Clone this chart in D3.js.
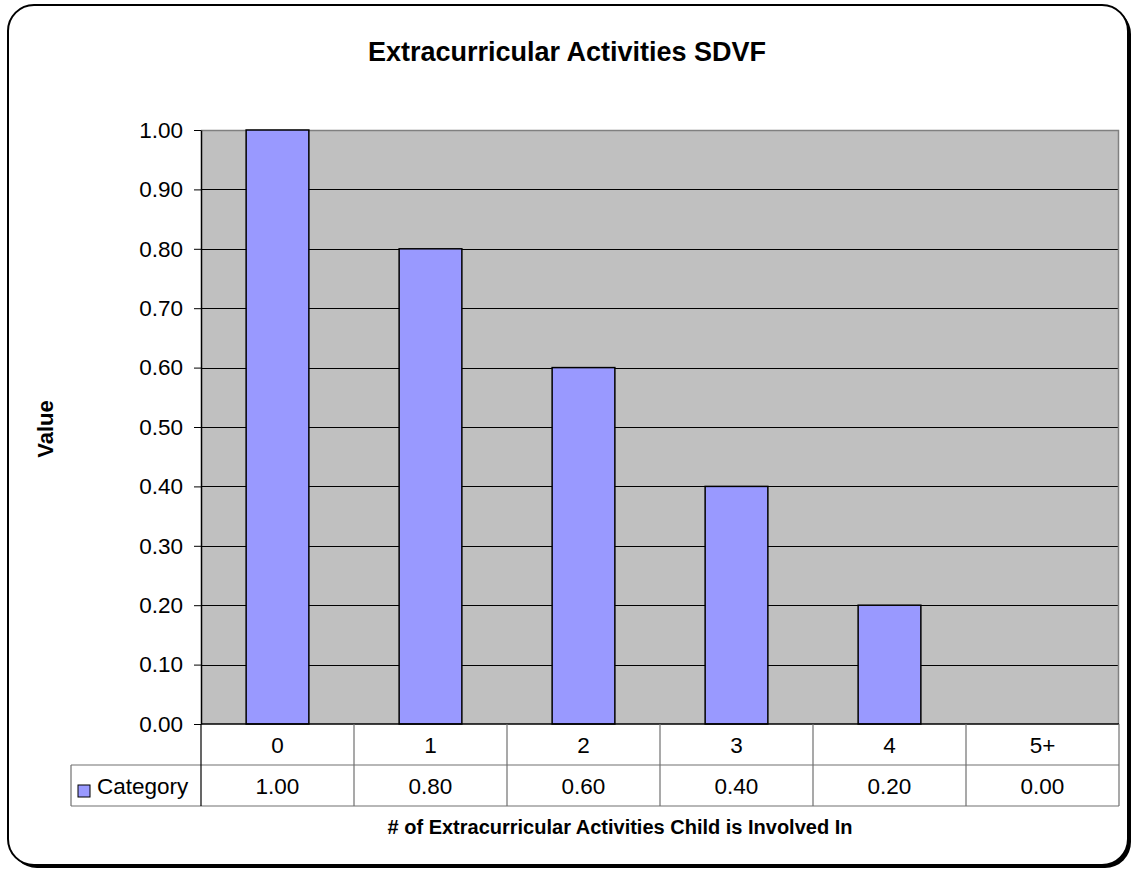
<!DOCTYPE html>
<html>
<head>
<meta charset="utf-8">
<script src="https://cdn.jsdelivr.net/npm/d3@7/dist/d3.min.js"></script>
<style>
  body { margin: 0; background: #fff; }
  text { font-family: Arial, "Liberation Sans", sans-serif; fill: #000; }
</style>
</head>
<body>
<script>
// chart data
var categories = ["0", "1", "2", "3", "4", "5+"];
var values = [1.00, 0.80, 0.60, 0.40, 0.20, 0.00];
var yTicks = [0, 0.1, 0.2, 0.3, 0.4, 0.5, 0.6, 0.7, 0.8, 0.9, 1.0];
var seriesName = "Category";

var svgWidth = 1133;
var svgHeight = 871;

var margin = { top: 130, right: 14, bottom: 147, left: 201 };
var width = svgWidth - margin.left - margin.right;   // 918
var height = svgHeight - margin.top - margin.bottom; // 594

var labelFont = "22.5px";

var svg = d3.select("body")
  .append("svg")
  .attr("width", svgWidth)
  .attr("height", svgHeight);

// outer rounded frame with shadow
svg.append("rect")
  .attr("x", 11).attr("y", 8)
  .attr("width", 1120).attr("height", 860)
  .attr("rx", 26).attr("ry", 26)
  .attr("fill", "#000");
svg.append("rect")
  .attr("x", 8).attr("y", 5)
  .attr("width", 1120).attr("height", 860)
  .attr("rx", 26).attr("ry", 26)
  .attr("fill", "#fff")
  .attr("stroke", "#000")
  .attr("stroke-width", 2);

// title
svg.append("text")
  .attr("x", 567).attr("y", 61)
  .attr("text-anchor", "middle")
  .style("font-size", "27px")
  .style("font-weight", "bold")
  .text("Extracurricular Activities SDVF");

var chartGroup = svg.append("g")
  .attr("transform", `translate(${margin.left}, ${margin.top})`);

var xScale = d3.scaleBand()
  .domain(categories)
  .range([0, width])
  .paddingInner(0.59)
  .paddingOuter(0.295);

var xCell = d3.scaleBand()
  .domain(categories)
  .range([0, width]);

var yScale = d3.scaleLinear()
  .domain([0, 1])
  .range([height, 0]);

// plot background
chartGroup.append("rect")
  .attr("width", width)
  .attr("height", height)
  .attr("fill", "#c0c0c0");

// gridlines
chartGroup.selectAll(".grid")
  .data(yTicks.filter(d => d > 0))
  .enter().append("line")
  .attr("x1", 0).attr("x2", width)
  .attr("y1", d => Math.round(yScale(d)) + 0.5)
  .attr("y2", d => Math.round(yScale(d)) + 0.5)
  .attr("stroke", "#000")
  .attr("stroke-width", 1);

// plot border (top + right)
chartGroup.append("path")
  .attr("d", `M0,0.5H${width - 0.5}V${height}`)
  .attr("fill", "none")
  .attr("stroke", "#808080")
  .attr("stroke-width", 1.5);

// bars
chartGroup.selectAll(".bar")
  .data(values)
  .enter().append("rect")
  .attr("x", (d, i) => xScale(categories[i]))
  .attr("y", d => yScale(d))
  .attr("width", xScale.bandwidth())
  .attr("height", d => height - yScale(d))
  .attr("fill", "#9999ff")
  .attr("stroke", "#000")
  .attr("stroke-width", 1.5)
  .style("display", d => d > 0 ? null : "none");

// y axis
var leftAxis = d3.axisLeft(yScale)
  .tickValues(yTicks)
  .tickFormat(d3.format(".2f"))
  .tickSize(7)
  .tickSizeOuter(0)
  .tickPadding(11);

var yAxis = chartGroup.append("g").call(leftAxis);
yAxis.select(".domain").attr("stroke", "#000").attr("stroke-width", 1.5);
yAxis.selectAll(".tick line").attr("stroke", "#000");
yAxis.selectAll("text")
  .style("font-size", labelFont)
  .style("font-family", "Arial, 'Liberation Sans', sans-serif");

// y axis title
svg.append("text")
  .attr("transform", "translate(53, 429) rotate(-90)")
  .attr("text-anchor", "middle")
  .style("font-size", "22px")
  .style("font-weight", "bold")
  .text("Value");

// data table
var rowH = 41;
var tableGroup = chartGroup.append("g")
  .attr("transform", `translate(0, ${height})`);

var lineColor = "#707070";

// horizontal lines
[0, rowH, rowH * 2].forEach(function (y) {
  tableGroup.append("line")
    .attr("x1", y === 0 ? 0 : -130).attr("x2", width)
    .attr("y1", y).attr("y2", y)
    .attr("stroke", y === 0 ? "#000" : lineColor)
    .attr("stroke-width", y === 0 ? 1.5 : 1.2);
});

// vertical lines
categories.forEach(function (c) {
  tableGroup.append("line")
    .attr("x1", xCell(c)).attr("x2", xCell(c))
    .attr("y1", 0).attr("y2", rowH * 2)
    .attr("stroke", xCell(c) === 0 ? "#000" : lineColor)
    .attr("stroke-width", 1.2);
});
tableGroup.append("line")
  .attr("x1", width).attr("x2", width)
  .attr("y1", 0).attr("y2", rowH * 2)
  .attr("stroke", lineColor).attr("stroke-width", 1.2);
tableGroup.append("line")
  .attr("x1", -130).attr("x2", -130)
  .attr("y1", rowH).attr("y2", rowH * 2)
  .attr("stroke", lineColor).attr("stroke-width", 1.2);

// category labels
tableGroup.selectAll(".cat")
  .data(categories)
  .enter().append("text")
  .attr("x", d => xCell(d) + xCell.bandwidth() / 2)
  .attr("y", rowH / 2 + 8)
  .attr("text-anchor", "middle")
  .style("font-size", labelFont)
  .text(d => d);

// value labels
tableGroup.selectAll(".val")
  .data(values)
  .enter().append("text")
  .attr("x", (d, i) => xCell(categories[i]) + xCell.bandwidth() / 2)
  .attr("y", rowH * 1.5 + 8)
  .attr("text-anchor", "middle")
  .style("font-size", labelFont)
  .text(d => d3.format(".2f")(d));

// legend key
tableGroup.append("rect")
  .attr("x", -123).attr("y", rowH + 20)
  .attr("width", 12).attr("height", 12)
  .attr("fill", "#9999ff")
  .attr("stroke", "#000")
  .attr("stroke-width", 1);
tableGroup.append("text")
  .attr("x", -104).attr("y", rowH * 1.5 + 8)
  .style("font-size", labelFont)
  .text(seriesName);

// x axis title
svg.append("text")
  .attr("x", 620).attr("y", 834)
  .attr("text-anchor", "middle")
  .style("font-size", "20px")
  .style("font-weight", "bold")
  .text("# of Extracurricular Activities Child is Involved In");
</script>
</body>
</html>
